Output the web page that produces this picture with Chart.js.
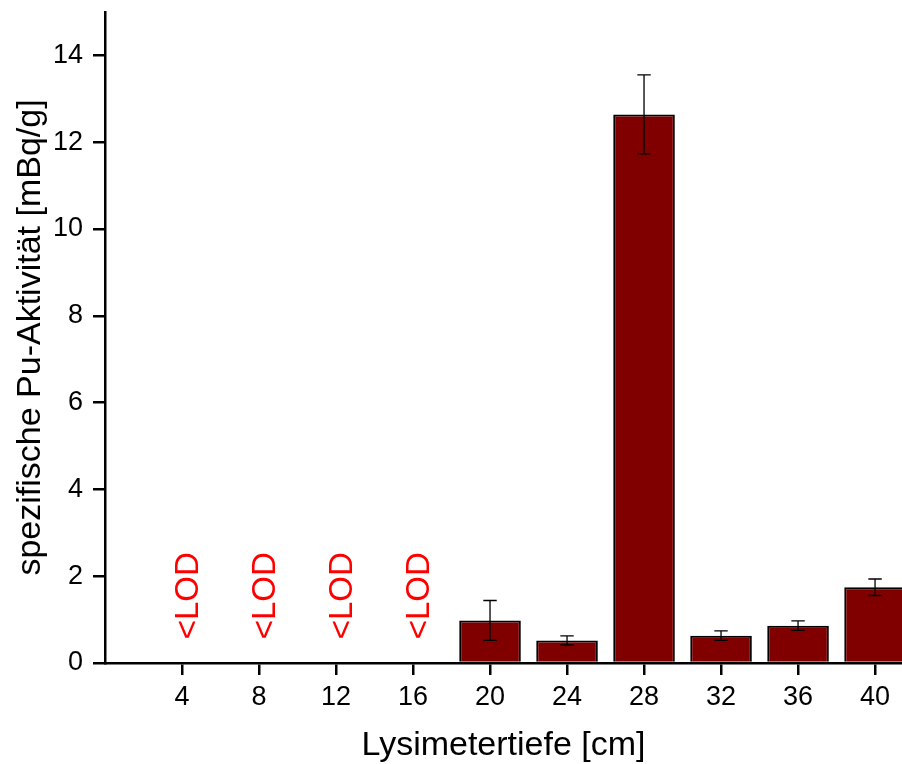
<!DOCTYPE html>
<html>
<head>
<meta charset="utf-8">
<script src="https://cdn.jsdelivr.net/npm/chart.js@4.4.1/dist/chart.umd.min.js"></script>
<style>
  html, body { margin: 0; padding: 0; background: #fff; }
  #chart { display: block; }
</style>
</head>
<body>
<canvas id="chart" width="902" height="764"></canvas>
<script>
// depths (cm) with measured values
var depths = [20, 24, 28, 32, 36, 40];
var activity = [0.98, 0.52, 12.64, 0.63, 0.86, 1.745];
var errors = [0.46, 0.105, 0.91, 0.11, 0.11, 0.19];
// depths below detection limit
var lodDepths = [4, 8, 12, 16];
var lodText = '<LOD';

var fontFam = '"Liberation Sans", Arial, Helvetica, sans-serif';

// error bars + <LOD labels
var extras = {
  id: 'extras',
  afterDatasetsDraw: function(chart) {
    var ctx = chart.ctx;
    var xs = chart.scales.x, ys = chart.scales.y;
    ctx.save();
    ctx.strokeStyle = '#000';
    ctx.lineWidth = 1.3;
    for (var i = 0; i < depths.length; i++) {
      var x = xs.getPixelForValue(depths[i]);
      var yt = ys.getPixelForValue(activity[i] + errors[i]);
      var yb = ys.getPixelForValue(activity[i] - errors[i]);
      ctx.beginPath();
      ctx.moveTo(x, yt); ctx.lineTo(x, yb);
      ctx.moveTo(x - 6.7, yt); ctx.lineTo(x + 6.7, yt);
      ctx.moveTo(x - 6.7, yb); ctx.lineTo(x + 6.7, yb);
      ctx.stroke();
    }
    ctx.fillStyle = '#ff0000';
    ctx.font = '33px ' + fontFam;
    ctx.textAlign = 'center';
    ctx.textBaseline = 'alphabetic';
    for (var j = 0; j < lodDepths.length; j++) {
      var lx = xs.getPixelForValue(lodDepths[j]) + 16;
      var ly = ys.getPixelForValue(1.55);
      ctx.save();
      ctx.translate(lx, ly);
      ctx.rotate(-Math.PI / 2);
      ctx.fillText(lodText, 0, 0);
      ctx.restore();
    }
    ctx.restore();
  }
};

new Chart(document.getElementById('chart').getContext('2d'), {
  type: 'bar',
  data: {
    datasets: [{
      data: depths.map(function(d, i) { return { x: d, y: activity[i] }; }),
      backgroundColor: '#800000',
      borderColor: '#000',
      borderWidth: 2,
      barPercentage: 0.8,
      categoryPercentage: 1
    }]
  },
  options: {
    responsive: false,
    devicePixelRatio: 1,
    animation: false,
    layout: { padding: { top: 12, left: 0, right: 0, bottom: 0 } },
    plugins: { legend: { display: false }, tooltip: { enabled: false } },
    scales: {
      x: {
        type: 'linear',
        offset: false,
        min: 0,
        max: 41.4,
        afterBuildTicks: function(s) { s.ticks = s.ticks.filter(function(t) { return t.value > 0; }); },
        afterFit: function(s) { s.height = 101; s.paddingLeft = 0; s.paddingRight = 0; },
        ticks: { stepSize: 4, includeBounds: false, color: '#000', padding: 9,
                 font: { family: fontFam, size: 27, lineHeight: 1 } },
        grid: { display: true, offset: false, drawOnChartArea: false, drawTicks: true, tickLength: 12,
                color: '#000', lineWidth: 2.5 },
        border: { display: true, color: '#000', width: 2.5 },
        title: { display: true, text: 'Lysimetertiefe [cm]', color: '#000',
                 font: { family: fontFam, size: 34, lineHeight: 1.1 }, padding: 0 }
      },
      y: {
        min: 0,
        max: 15,
        afterFit: function(s) { s.width = 105; s.paddingTop = 0; s.paddingBottom = 0; },
        ticks: { stepSize: 2, includeBounds: false, color: '#000', padding: 10,
                 font: { family: fontFam, size: 27, lineHeight: 1 } },
        grid: { display: true, drawOnChartArea: false, drawTicks: true, tickLength: 12,
                color: '#000', lineWidth: 2.5 },
        border: { display: true, color: '#000', width: 2.5 },
        title: { display: true, text: 'spezifische Pu-Aktivität [mBq/g]', color: '#000',
                 font: { family: fontFam, size: 34, lineHeight: 1.1 }, padding: { top: 12, bottom: 0 } }
      }
    }
  },
  plugins: [extras]
});
</script>
</body>
</html>
